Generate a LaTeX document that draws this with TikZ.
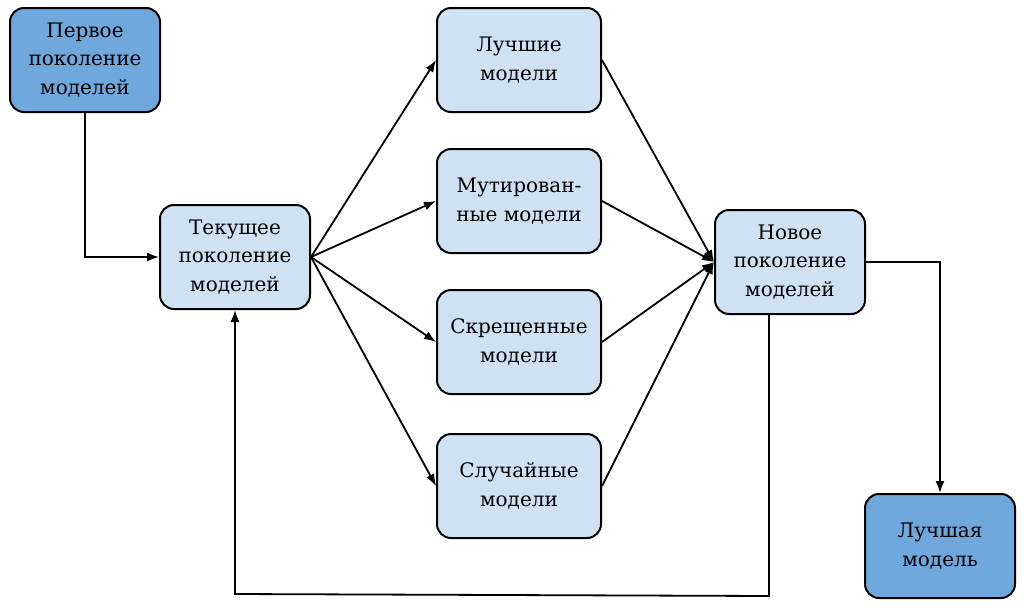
\documentclass[tikz,border=0pt]{standalone}
\usepackage{fontspec}
\setmainfont{DejaVu Serif}
\usetikzlibrary{arrows.meta}
\definecolor{lightb}{HTML}{CFE2F3}
\definecolor{darkb}{HTML}{6FA8DC}
\begin{document}
\begin{tikzpicture}[x=1pt,y=-1pt,
  box/.style={draw=black, line width=2pt, rounded corners=14pt, minimum width=150pt, minimum height=104pt, align=center, inner sep=0pt, font=\rmfamily\fontsize{20}{28.5}\selectfont},
  lbox/.style={box, fill=lightb},
  dbox/.style={box, fill=darkb},
  wbox/.style={lbox, minimum width=164pt},
  arr/.style={line width=1.8pt, -{Latex[length=12pt,width=9pt]}}]
\useasboundingbox (0,0) rectangle (1025,611);
\node[dbox] (first) at (85,60) {Первое\\поколение\\моделей};
\node[lbox] (cur) at (235,257) {Текущее\\поколение\\моделей};
\node[wbox] (best) at (519,60) {Лучшие\\модели};
\node[wbox] (mut) at (519,201) {Мутирован-\\ные модели};
\node[wbox] (cross) at (519,342) {Скрещенные\\модели};
\node[wbox] (rand) at (519,486) {Случайные\\модели};
\node[lbox] (new) at (790,262) {Новое\\поколение\\моделей};
\node[dbox] (final) at (940,546) {Лучшая\\модель};
\coordinate (c1) at (85,257);
\coordinate (c2) at (940,262);
\coordinate (c3) at (769,596);
\coordinate (c4) at (235,594);
\draw[arr] (first.south) -- (c1) -- (cur.west);
\draw[arr] (cur.east) -- (best.west);
\draw[arr] (cur.east) -- (mut.west);
\draw[arr] (cur.east) -- (cross.west);
\draw[arr] (cur.east) -- (rand.west);
\draw[arr] (best.east) -- (new.west);
\draw[arr] (mut.east) -- (new.west);
\draw[arr] (cross.east) -- (new.west);
\draw[arr] (rand.east) -- (new.west);
\draw[arr] (new.east) -- (c2) -- (final.north);
\draw[arr] (new.south -| c3) -- (c3) -- (c4) -- (cur.south);
\end{tikzpicture}
\end{document}
